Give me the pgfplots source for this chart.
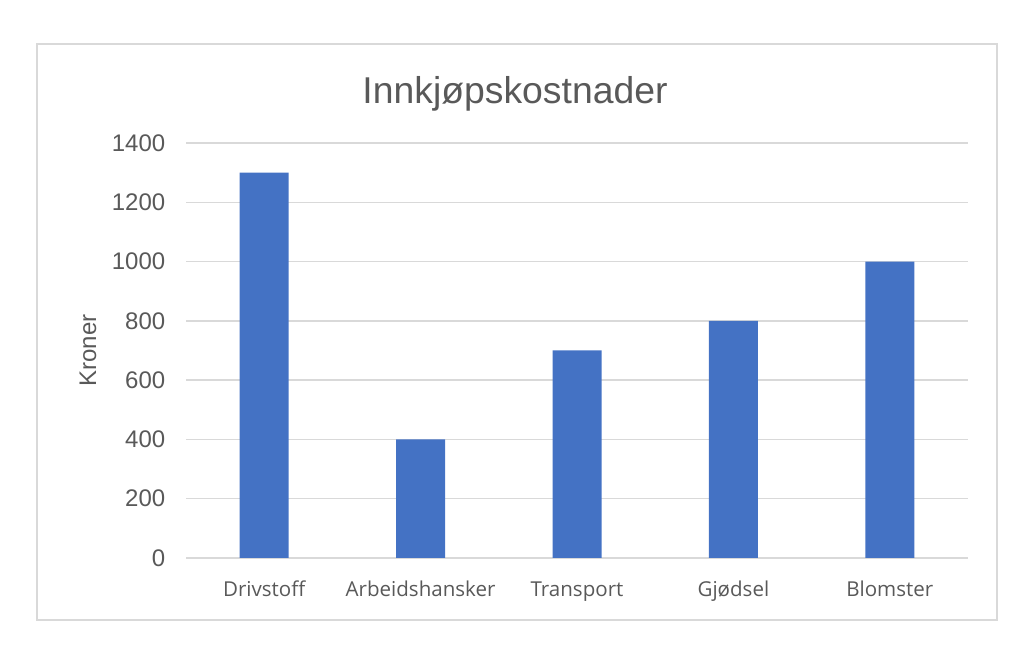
\documentclass[border=0pt]{standalone}
\usepackage{fontspec}
\setmainfont{Liberation Sans}
\newfontfamily\catfont{Open Sans}
\usepackage{pgfplots}
\pgfplotsset{compat=1.18}
\definecolor{barblue}{HTML}{4472C4}
\definecolor{gridgray}{HTML}{D9D9D9}
\definecolor{textgray}{HTML}{595959}
\begin{document}
\begin{tikzpicture}
% page = 1029 x 652 px, 1px = 0.75pt
\useasboundingbox (0,0) rectangle (771.75pt,489pt);
\draw[gridgray, line width=0.9pt] (27.75pt,24pt) rectangle (747.75pt,456pt);
\begin{axis}[
  at={(139.5pt,70.5pt)}, anchor=south west,
  scale only axis, width=586.5pt, height=311.25pt,
  ybar, bar width=36.75pt,
  xmin=-0.5, xmax=4.5, ymin=0, ymax=1400,
  ytick distance=200,
  xtick=data,
  xticklabels={Drivstoff,Arbeidshansker,Transport,Gjødsel,Blomster},
  axis line style={draw=none},
  ymajorgrids, grid style={gridgray, line width=1pt},
  major tick length=0pt,
  /pgf/number format/assume math mode=true,
  /pgf/number format/1000 sep={},
  yticklabel style={font=\fontsize{18}{20}\selectfont, text=textgray, xshift=-12pt},
  xticklabel style={font=\catfont\fontsize{15.4}{17}\selectfont, text=textgray, anchor=base, yshift=-29pt},
  title={Innkjøpskostnader},
  title style={at={(rel axis cs:0.4207,1.077)}, anchor=base, font=\fontsize{28}{32}\selectfont, text=textgray},
  ylabel={Kroner},
  ylabel style={at={(rel axis cs:-0.1253,0.5)}, anchor=center, font=\fontsize{18}{20}\selectfont, text=textgray},
]
\addplot[fill=barblue, draw=none] coordinates {(0,1300) (1,400) (2,700) (3,800) (4,1000)};
\end{axis}
\end{tikzpicture}
\end{document}
